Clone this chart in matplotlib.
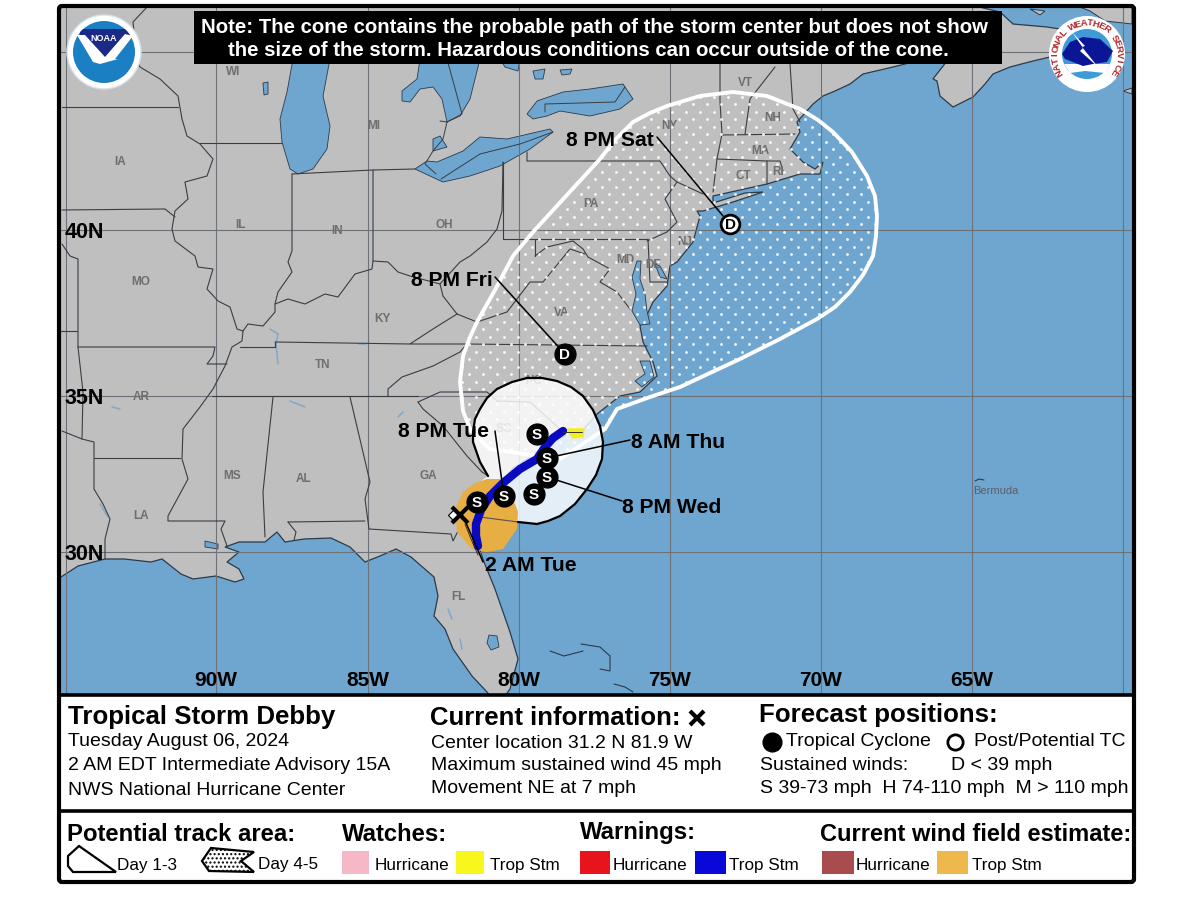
import numpy as np
import matplotlib
matplotlib.use('Agg')
import matplotlib.pyplot as plt
from matplotlib.patches import Polygon, Circle, Rectangle, FancyBboxPatch

plt.rcParams['font.family'] = ['Liberation Sans', 'DejaVu Sans']

lon_grid = [66, 216, 368, 519, 670, 821, 972, 1123]
lat_grid = [53, 231, 397, 553]
lon_labels = [('90W', 216), ('85W', 368), ('80W', 519), ('75W', 670), ('70W', 821), ('65W', 972)]
lat_labels = [('40N', 231), ('35N', 397), ('30N', 553)]

land = [(59, 578), (61, 578), (78, 567), (105, 560), (124, 560), (151, 563), (162, 560), (181, 575), (193, 580),
        (216, 577), (235, 583), (244, 580), (239, 570), (227, 563), (239, 553), (225, 548), (239, 543), (265, 543),
        (277, 533), (285, 543), (304, 540), (331, 539), (350, 548), (365, 563), (380, 557), (396, 550), (411, 558),
        (434, 578), (438, 597), (434, 617), (445, 630), (453, 650), (472, 677), (487, 693), (490, 697), (505, 697),
        (510, 690), (518, 660), (510, 633), (495, 590), (484, 563), (476, 540), (475, 527), (482, 510), (497, 488),
        (512, 470), (530, 458), (545, 447), (565, 437), (582, 432), (597, 415), (620, 397), (640, 393), (657, 377),
        (653, 363), (643, 343), (640, 327), (645, 320), (653, 303), (667, 287), (670, 267), (677, 263), (693, 243),
        (700, 217), (697, 212), (703, 212), (733, 203), (763, 193), (745, 194), (713, 204), (713, 197), (767, 185),
        (800, 175), (820, 175), (823, 163), (815, 170), (803, 163), (790, 150), (800, 133), (797, 123), (813, 105),
        (823, 97), (835, 92), (850, 85), (863, 75), (893, 68), (913, 63), (925, 60), (947, 62), (933, 80), (937, 82),
        (940, 97), (953, 108), (963, 103), (973, 98), (985, 85), (993, 75), (1010, 68), (1033, 62), (1050, 58),
        (1075, 40), (1060, 30), (1047, 28), (1013, 25), (1000, 13), (975, 7), (59, 7)]
land_extra = [[(1077, 7), (1132, 7), (1132, 25), (1105, 22), (1090, 12)],
              [(1123, 92), (1132, 89), (1132, 95)],
              [(1030, 10), (1045, 12), (1040, 16)]]

lakes = [[(293, 60), (330, 60), (323, 97), (330, 127), (327, 150), (313, 170), (298, 175), (290, 170), (282, 143),
          (280, 120), (287, 93)],
         [(420, 60), (417, 80), (402, 92), (402, 102), (410, 103), (420, 90), (433, 88), (442, 100), (447, 123),
          (460, 117), (470, 100), (480, 60)],
         [(500, 60), (520, 60), (518, 72), (505, 68)],
         [(433, 140), (440, 137), (447, 148), (433, 152)],
         [(415, 170), (427, 162), (437, 163), (463, 152), (480, 138), (507, 140), (550, 130), (553, 133), (530, 150),
          (500, 167), (470, 177), (443, 183), (430, 177)],
         [(527, 115), (537, 102), (563, 93), (590, 90), (623, 85), (633, 100), (620, 110), (590, 117), (560, 112),
          (547, 117), (533, 120)],
         [(263, 84), (268, 83), (268, 95), (264, 96)],
         [(533, 72), (545, 70), (543, 80), (535, 80)],
         [(560, 71), (572, 70), (570, 75), (562, 76)],
         [(637, 262), (641, 262), (640, 280), (645, 295), (647, 312), (650, 325), (640, 326), (632, 312), (636, 295),
          (632, 278)],
         [(655, 265), (660, 267), (667, 280), (660, 278)],
         [(640, 362), (650, 362), (654, 378), (642, 388), (635, 382), (645, 375)],
         [(489, 636), (497, 637), (499, 648), (491, 651), (487, 644)],
         [(218, 545), (205, 542), (205, 548), (218, 550)]]
lake_borders = [[(440, 122), (447, 123)], [(447, 60), (462, 115), (447, 123)],
                [(441, 180), (480, 155), (520, 145), (553, 133)],
                [(545, 113), (545, 105), (615, 103), (625, 88)],
                [(447, 123), (443, 140), (433, 152), (425, 165), (436, 175)]]
rivers_blue = [[(270, 330), (278, 335), (276, 345), (278, 365)], [(290, 402), (305, 408)],
               [(112, 408), (120, 410)], [(358, 345), (366, 345)], [(398, 418), (403, 413)],
               [(100, 505), (108, 518)], [(448, 610), (452, 620)], [(460, 640), (462, 650)]]

state_lines = [
    [(148, 7), (133, 23), (137, 62), (140, 68), (160, 80), (178, 97), (182, 120), (187, 137), (200, 145), (213, 160),
     (207, 177), (185, 183), (188, 200), (175, 212), (172, 230), (175, 242), (195, 257), (198, 268), (213, 270),
     (207, 290), (218, 302), (230, 308), (237, 330), (243, 332), (242, 342), (232, 348), (225, 367), (213, 390),
     (200, 408), (183, 430), (182, 460), (188, 480), (168, 517), (168, 522), (225, 522), (221, 530), (227, 547)],
    [(62, 108), (178, 108)], [(62, 211), (165, 210), (175, 218)], [(200, 144), (282, 144)],
    [(292, 175), (292, 252), (288, 263), (292, 273), (278, 293), (275, 305), (275, 313), (263, 327), (248, 325), (243, 332)],
    [(275, 305), (288, 300), (305, 305), (325, 295), (338, 298), (355, 275), (372, 270), (373, 262), (388, 263),
     (398, 273), (410, 277), (440, 285), (443, 297), (457, 315)],
    [(440, 285), (460, 263), (470, 257), (487, 243), (497, 230), (502, 212), (503, 163)],
    [(373, 262), (373, 171), (415, 170)], [(292, 175), (373, 171)],
    [(457, 315), (433, 330), (410, 345), (467, 345), (647, 347)], [(275, 343), (410, 345)],
    [(240, 348), (275, 348), (275, 343)],
    [(78, 348), (215, 348), (213, 357), (207, 365), (227, 365)],
    [(62, 245), (70, 257), (78, 260), (78, 348), (83, 393), (82, 440)], [(60, 332), (77, 332)],
    [(62, 432), (82, 440), (94, 443), (94, 490), (103, 505), (110, 520), (105, 540), (105, 560)],
    [(94, 459), (180, 459)], [(212, 397), (418, 397)],
    [(273, 398), (263, 493), (265, 538)], [(350, 398), (370, 483), (365, 500), (369, 530), (451, 535), (453, 542), (459, 530), (475, 530)],
    [(288, 523), (365, 522)], [(288, 523), (296, 533), (294, 541)],
    [(418, 403), (423, 410), (443, 427), (467, 457), (482, 473), (490, 478)],
    [(388, 397), (388, 390), (402, 378), (433, 367), (460, 353), (467, 345)],
    [(418, 403), (440, 393), (487, 393), (497, 402), (530, 403), (560, 430), (565, 436)],
    [(457, 315), (477, 323), (507, 313), (530, 283), (543, 283), (570, 250), (585, 255)],
    [(535, 257), (535, 240)], [(503, 240), (647, 240)], [(503, 163), (503, 240)],
    [(535, 257), (547, 248), (573, 242), (583, 250), (588, 258), (610, 270), (600, 283), (617, 293), (630, 310)],
    [(527, 153), (527, 162), (660, 162), (670, 177), (677, 183), (703, 195)],
    [(677, 183), (665, 200), (677, 223), (667, 233), (647, 242)],
    [(648, 240), (650, 283), (667, 283)],
    [(720, 60), (720, 103), (722, 135), (717, 160), (713, 193)],
    [(717, 160), (767, 162), (767, 185)], [(767, 162), (780, 162), (783, 172)],
    [(722, 136), (795, 135)], [(775, 68), (750, 100), (745, 135)], [(790, 65), (793, 110), (800, 123)]]

state_names = ['IA', 'WI', 'MI', 'IL', 'IN', 'OH', 'MO', 'KY', 'TN', 'VA', 'PA', 'NY', 'VT', 'NH', 'MA', 'CT', 'RI',
               'NJ', 'DE', 'MD', 'NC', 'SC', 'GA', 'AL', 'MS', 'AR', 'LA', 'FL']
state_x = [120, 233, 374, 240, 337, 444, 141, 382, 323, 562, 591, 669, 745, 773, 760, 743, 778, 685, 653, 625, 534,
           504, 428, 304, 232, 141, 141, 458]
state_y = [162, 72, 126, 225, 231, 225, 282, 319, 365, 313, 204, 126, 83, 118, 151, 176, 172, 242, 265, 260, 381,
           429, 476, 479, 476, 397, 516, 597]

islands = [[(550, 652), (564, 657), (583, 652)], [(581, 645), (600, 648), (610, 657), (610, 672), (600, 670)],
           [(614, 685), (625, 688), (633, 693)], [(975, 482), (979, 480), (984, 481)]]

cone = [(463, 412), (460, 383), (463, 357), (470, 338), (477, 323), (495, 291), (513, 257), (533, 233), (566, 197),
        (600, 160), (615, 141), (633, 123), (650, 114), (667, 107), (700, 97), (733, 93), (767, 97), (800, 110),
        (818, 121), (833, 133), (852, 153), (867, 177), (875, 197), (877, 217), (876, 237), (873, 257), (863, 276),
        (850, 293), (835, 308), (817, 320), (780, 340), (740, 360), (710, 374), (680, 388), (650, 398), (617, 410),
        (605, 430), (560, 460), (490, 450), (471, 432)]
cone_day13 = [(473, 433), (475, 420), (480, 410), (487, 399), (497, 390), (512, 383), (527, 379), (542, 379), (557, 382),
              (571, 388), (583, 397), (593, 411), (600, 427), (603, 443), (602, 460), (596, 476), (587, 490), (575, 505),
              (560, 517), (548, 522), (537, 525), (518, 523), (480, 518), (470, 490), (488, 477), (480, 463), (473, 443)]
wind_field = [(455, 510), (463, 493), (475, 484), (487, 480), (500, 480), (510, 492), (518, 513), (517, 530), (503, 550),
              (487, 553), (472, 550), (457, 533)]
ts_warning = [(478, 547), (476, 537), (476, 525), (481, 511), (490, 497), (503, 484), (520, 470), (537, 460), (545, 448),
              (553, 439), (563, 432)]
ts_watch = [(567, 430), (584, 430), (583, 438), (573, 439)]

storm_x = [537, 547, 547, 534, 504, 477]
storm_y = [435, 459, 478, 495, 497, 503]
depr_x = 565
depr_y = 355
post_x = 730
post_y = 225
current_pos = (460, 516)

leaders = [[(657, 138), (723, 217)], [(495, 278), (565, 355)], [(495, 432), (503, 490)], [(630, 441), (547, 459)],
           [(622, 502), (547, 478)], [(483, 563), (463, 517)]]
time_labels = ['8 PM Sat', '8 PM Fri', '8 PM Tue', '8 AM Thu', '8 PM Wed', '2 AM Tue']
time_x = [566, 411, 398, 631, 622, 485]
time_y = [139, 279, 430, 441, 506, 564]

noaa_swoosh = [(77, 36), (85, 36), (105, 58), (125, 35), (133, 37), (115, 60), (118, 60), (100, 65), (93, 63)]
noaa_dark = [(80, 30), (130, 30), (130, 36), (105, 60), (80, 36)]
nws_cloud = [(1062, 55), (1070, 43), (1083, 38), (1100, 40), (1113, 52), (1107, 63), (1093, 65), (1083, 67), (1065, 60)]
nws_bolt = [(1072, 33), (1085, 47), (1082, 48), (1098, 68), (1080, 52), (1083, 49)]

water_color = '#6fa6cf'
land_color = '#bfbfbf'
line_color = '#3a3d42'

fig = plt.figure(figsize=(12, 9.04), dpi=100)
ax = fig.add_axes([0, 0, 1, 1])
ax.set_xlim(0, 1200)
ax.set_ylim(904, 0)
ax.axis('off')


def txt(x, y, s, size=14, weight='normal', color='black', ha='left', z=20, **kw):
    return ax.text(x, y + 1.5, s, fontsize=size, fontweight=weight, color=color, ha=ha, va='center', zorder=z, **kw)


def line(pts, color=line_color, lw=0.8, z=3, **kw):
    ax.plot([p[0] for p in pts], [p[1] for p in pts], color=color, lw=lw, zorder=z, solid_capstyle='round', **kw)


# map background
ax.add_patch(Rectangle((59, 7), 1075, 689, fc=water_color, ec='none', zorder=0))
ax.add_patch(Polygon(land, fc=land_color, ec='#2c3a4a', lw=0.9, zorder=1))
for p in land_extra:
    ax.add_patch(Polygon(p, fc=land_color, ec='#2c3a4a', lw=0.7, zorder=1))
for p in lakes:
    ax.add_patch(Polygon(p, fc=water_color, ec='#2c3a4a', lw=0.6, zorder=2))
for l in lake_borders:
    line(l, lw=0.7)
for l in rivers_blue:
    line(l, color='#7fa9cc', lw=1.1, z=2)
for l in islands:
    line(l, color='#2c3a4a', lw=0.8)

for x in lon_grid:
    ax.plot([x, x], [7, 696], color='#6d7278', lw=0.8, zorder=2.5)
for y in lat_grid:
    ax.plot([59, 1134], [y, y], color='#6d7278', lw=0.8, zorder=2.5)
for l in state_lines:
    line(l)
for n, x, y in zip(state_names, state_x, state_y):
    txt(x, y - 1.5, n, size=8.5, weight='bold', color='#6e6e6e', ha='center', z=4)
txt(996, 490, 'Bermuda', size=8, color='#5a5f66', ha='center', z=4)

# forecast cone: stipple is clipped to the outline
cone_patch = Polygon(cone, closed=True, fc='none', ec='white', lw=2.8, zorder=5, joinstyle='round')
ax.add_patch(cone_patch)
dot_rows = np.arange(90, 470, 7.5)
for i, y in enumerate(dot_rows):
    xs = np.arange(455 + (i % 2) * 7, 885, 14)
    pts = ax.scatter(xs, np.full(len(xs), y), s=4.2, c='white', alpha=0.9, linewidths=0, zorder=4.8)
    pts.set_clip_path(cone_patch)
ax.add_patch(Polygon(cone_day13, fc='white', alpha=0.82, ec='none', zorder=6))
ax.add_patch(Polygon(wind_field, fc='#e6ae43', ec='none', zorder=7))
line(cone_day13[-3:] + cone_day13[:22], color='black', lw=1.6, z=8)
line([(480, 518), (518, 523)], color='#555555', lw=0.8, z=7.5)
ax.add_patch(Polygon(ts_watch, fc='#f5ee1e', ec='#f5ee1e', lw=1, zorder=9))
line(ts_warning, color='#0a0ac0', lw=6, z=9)
line([(563, 433), (582, 433)], color='#333333', lw=0.7, z=9)
line([(465, 525), (471, 540), (478, 556)], color='#333333', lw=0.7, z=8.8)

for l in leaders:
    line(l, color='black', lw=1.1, z=10)
for s, x, y in zip(time_labels, time_x, time_y):
    txt(x, y, s, size=15.2, weight='bold')

ax.plot(storm_x, storm_y, ls='none', marker='o', ms=15, mfc='black', mec='black', zorder=12)
for x, y in zip(storm_x, storm_y):
    txt(x, y - 1.5, 'S', size=11, weight='bold', color='white', ha='center', z=13)
ax.plot([depr_x], [depr_y], marker='o', ms=15, mfc='black', mec='black', zorder=12)
txt(depr_x, depr_y - 1.5, 'D', size=11, weight='bold', color='white', ha='center', z=13)
ax.plot([post_x], [post_y], marker='o', ms=13.5, mfc='white', mec='black', mew=2, zorder=12)
txt(post_x, post_y - 1.5, 'D', size=11, weight='bold', color='black', ha='center', z=13)

ax.plot([current_pos[0] - 6], [current_pos[1]], marker='D', ms=6, mfc='white', mec='black', mew=0.8, zorder=11)
ax.plot([current_pos[0]], [current_pos[1]], marker='x', ms=11, mec='black', mew=3, zorder=12)

for s, x in lon_labels:
    txt(x, 679, s, size=15, weight='bold', ha='center')
for s, y in lat_labels:
    txt(65, y, s, size=15.5, weight='bold')

# note box
ax.add_patch(Rectangle((194, 12), 808, 53, fc='black', ec='none', zorder=15))
txt(201, 26, 'Note: The cone contains the probable path of the storm center but does not show', size=14.7, weight='bold', color='white')
txt(228, 49, 'the size of the storm. Hazardous conditions can occur outside of the cone.', size=14.7, weight='bold', color='white')

# NOAA logo
ax.add_patch(Circle((104, 53), 37, fc='white', ec='#d8dfe8', lw=1, zorder=15))
ring = Circle((104, 53), 31, fc='#1b7fc4', ec='none', zorder=16)
ax.add_patch(ring)
dark = Polygon(noaa_dark, fc='#1a2a86', ec='none', zorder=17)
ax.add_patch(dark)
dark.set_clip_path(ring)
ax.add_patch(Polygon(noaa_swoosh, fc='white', ec='none', zorder=18))
txt(104, 37, 'NOAA', size=6.5, weight='bold', color='white', ha='center', z=19)

# NWS logo
ax.add_patch(Circle((1087, 55), 38, fc='white', ec='none', zorder=15))
ax.add_patch(Circle((1087, 55), 25, fc='#3f9bd8', ec='none', zorder=16))
ax.add_patch(Polygon([(1064, 65), (1110, 65), (1105, 74), (1085, 72), (1070, 74)], fc='white', ec='none', zorder=16.5))
ax.add_patch(Polygon(nws_cloud, fc='#0b1696', ec='none', zorder=17))
ax.add_patch(Polygon(nws_bolt, fc='white', ec='none', zorder=18))
nws_text = 'NATIONAL WEATHER SERVICE'
angles = np.linspace(212, -32, len(nws_text))
for ch, a in zip(nws_text, angles):
    r = np.radians(a)
    ax.text(1087 + 32 * np.cos(r), 55 - 32 * np.sin(r), ch, fontsize=6.8, fontweight='bold', color='#b3262a',
            rotation=a - 90, ha='center', va='center', zorder=19)

# lower panels
ax.add_patch(Rectangle((59, 696), 1075, 187, fc='white', ec='none', zorder=14))
ax.plot([59, 1134], [696, 696], color='black', lw=2.6, zorder=21)
ax.plot([59, 1134], [812, 812], color='black', lw=2.6, zorder=21)
ax.add_patch(FancyBboxPatch((59, 7), 1075, 876, boxstyle='round,pad=0,rounding_size=3', fc='none', ec='black', lw=3, zorder=22))

txt(68, 716, 'Tropical Storm Debby', size=18.6, weight='bold')
txt(68, 740, 'Tuesday August 06, 2024')
txt(68, 764, '2 AM EDT Intermediate Advisory 15A')
txt(68, 789, 'NWS National Hurricane Center')

txt(430, 717, 'Current information:', size=18.5, weight='bold')
ax.plot([697], [719], marker='x', ms=10, mec='black', mew=3, zorder=20)
txt(431, 742, 'Center location 31.2 N 81.9 W')
txt(431, 764, 'Maximum sustained wind 45 mph')
txt(431, 787, 'Movement NE at 7 mph')

txt(759, 714, 'Forecast positions:', size=18.6, weight='bold')
ax.plot([772], [743], marker='o', ms=13.5, mfc='black', mec='black', zorder=20)
txt(786, 740, 'Tropical Cyclone')
ax.plot([955], [743], marker='o', ms=11, mfc='white', mec='black', mew=2, zorder=20)
txt(974, 740, 'Post/Potential TC')
txt(760, 764, 'Sustained winds:')
txt(951, 764, 'D < 39 mph')
txt(760, 787, 'S 39-73 mph  H 74-110 mph  M > 110 mph')

txt(67, 833, 'Potential track area:', size=17.2, weight='bold')
txt(342, 833, 'Watches:', size=17.2, weight='bold')
txt(580, 831, 'Warnings:', size=17.2, weight='bold')
txt(820, 833, 'Current wind field estimate:', size=17, weight='bold')

ax.add_patch(Polygon([(68, 857), (79, 847), (116, 873), (73, 873), (68, 867)], fc='white', ec='black', lw=1.6, zorder=20))
txt(117, 864, 'Day 1-3', size=12.3)
ax.add_patch(Polygon([(202, 862), (211, 849), (254, 853), (241, 862), (254, 873), (209, 872)], fc='white', ec='black', lw=1.6, hatch='....', zorder=20))
txt(258, 863, 'Day 4-5', size=12.3)

swatch_x = [342, 456, 580, 695, 822, 937]
swatch_w = [27, 28, 30, 31, 32, 31]
swatch_colors = ['#f6b7c6', '#f7f71e', '#e8141c', '#0808d8', '#a94c4e', '#efb84c']
swatch_names = ['Hurricane', 'Trop Stm', 'Hurricane', 'Trop Stm', 'Hurricane', 'Trop Stm']
swatch_text_x = [375, 490, 613, 729, 856, 972]
for x, w, c, n, tx in zip(swatch_x, swatch_w, swatch_colors, swatch_names, swatch_text_x):
    ax.add_patch(Rectangle((x, 852), w, 23, fc=c, ec='none', zorder=20))
    txt(tx, 864, n, size=12.3)

fig.savefig('out.png', dpi=100)
